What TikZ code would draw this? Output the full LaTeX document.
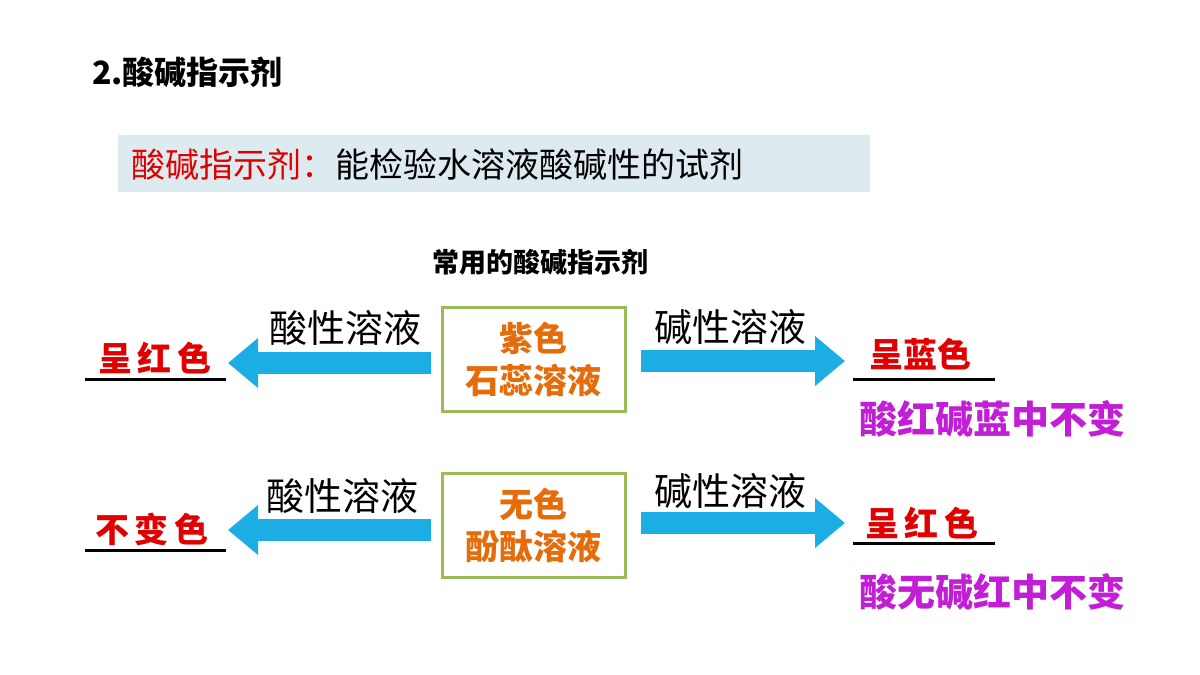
\documentclass[tikz,border=0pt]{standalone}
\usepackage{fontspec}
\setmainfont{Noto Sans CJK SC}
\newfontfamily\cjkb[BoldFont={Noto Sans CJK SC Bold}]{Noto Sans CJK SC}
\usetikzlibrary{arrows.meta}
\definecolor{band}{HTML}{DDEBF0}
\definecolor{boxg}{HTML}{9BBB59}
\definecolor{org}{HTML}{E46C0A}
\definecolor{arr}{HTML}{1CADE4}
\definecolor{pur}{HTML}{C21ED6}
\definecolor{rd}{HTML}{E00000}
\begin{document}
\begin{tikzpicture}[x=0.5pt,y=-0.5pt,
  ind/.style={draw=boxg,line width=1.5pt,minimum width=91.5pt,minimum height=52pt,inner sep=0pt,align=center,text=org,font=\fontsize{17}{21}\selectfont\bfseries},
  bigarrow/.style={arr,line width=11pt,-{Triangle[length=15pt,width=24pt]}},
  lab/.style={font=\fontsize{19}{22}\selectfont},
  res/.style={font=\fontsize{17}{20}\selectfont\bfseries,text=rd},
  uline/.style={line width=1.5pt},
  note/.style={font=\fontsize{19}{22}\selectfont\bfseries,text=pur}]
\useasboundingbox (0,0) rectangle (1200,675);
\node[anchor=west,font=\fontsize{16}{20}\selectfont\bfseries] (title) at (85,72) {2.酸碱指示剂};
\fill[band] (118,135) rectangle (870,192);
\node[anchor=west,font=\fontsize{17}{20}\selectfont] (def) at (124,164) {\textcolor{rd}{酸碱指示剂：}能检验水溶液酸碱性的试剂};
\node[font=\fontsize{13.5}{16}\selectfont\bfseries] (sub) at (540,262) {常用的酸碱指示剂};
% row 1
\node[ind] (b1) at (533.5,359) {紫色\\石蕊溶液};
\coordinate (l1) at (228,363);
\coordinate (r1) at (845,361);
\draw[bigarrow] ([xshift=-5pt]b1.west|-l1) -- (l1);
\draw[bigarrow] ([xshift=7pt]b1.east|-r1) -- (r1);
\node[lab] (a1) at (345,328) {酸性溶液};
\node[lab] (c1) at (730,327) {碱性溶液};
\node[res] (res1) at (155,358) {呈\,红\,色};
\draw[uline] (85,379) -- (226,379);
\node[res] (res2) at (920,354) {呈蓝色};
\draw[uline] (853,379) -- (995,379);
\node[note] (n1) at (992,419) {酸红碱蓝中不变};
% row 2
\node[ind] (b2) at (533.5,525.5) {无色\\酚酞溶液};
\coordinate (l2) at (228,530);
\coordinate (r2) at (845,523);
\draw[bigarrow] ([xshift=-5pt]b2.west|-l2) -- (l2);
\draw[bigarrow] ([xshift=7pt]b2.east|-r2) -- (r2);
\node[lab] (a2) at (342,496) {酸性溶液};
\node[lab] (c2) at (730,491) {碱性溶液};
\node[res] (res3) at (152,529) {不\,变\,色};
\draw[uline] (85,550) -- (226,550);
\node[res] (res4) at (922,523) {呈\,红\,色};
\draw[uline] (853,543) -- (995,543);
\node[note] (n2) at (992,592) {酸无碱红中不变};
\end{tikzpicture}
\end{document}
